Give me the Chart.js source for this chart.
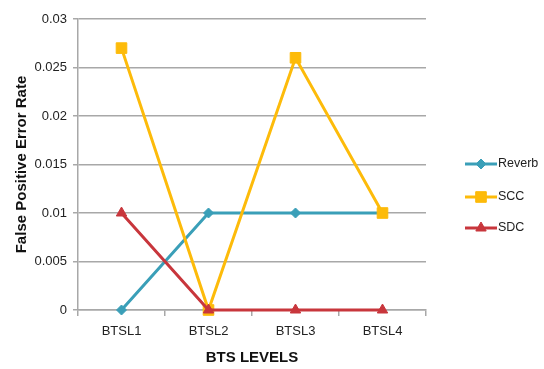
<!DOCTYPE html>
<html>
<head>
<meta charset="utf-8">
<script src="https://cdn.jsdelivr.net/npm/chart.js"></script>
<style>
  html, body { margin: 0; padding: 0; background: #fff; }
  #wrap { width: 544px; height: 369px; }
</style>
</head>
<body>
<div id="wrap"><canvas id="myChart" width="544" height="369"></canvas></div>
<script>
const levels = ['BTSL1', 'BTSL2', 'BTSL3', 'BTSL4'];
const reverb = [0, 0.01, 0.01, 0.01];
const scc = [0.027, 0, 0.026, 0.01];
const sdc = [0.01, 0, 0, 0];
const yTicks = ['0', '0.005', '0.01', '0.015', '0.02', '0.025', '0.03'];

const fontFam = "'Liberation Sans', Arial, sans-serif";
const gridColor = '#a8a8a8';

// legend drawn by hand: line + marker + name, like the original
const sideLegend = {
  id: 'sideLegend',
  afterDraw(chart) {
    const ctx = chart.ctx;
    const rows = [164, 197, 228];
    chart.data.datasets.forEach((ds, i) => {
      const y = rows[i];
      ctx.save();
      ctx.strokeStyle = ds.borderColor;
      ctx.lineWidth = 3;
      ctx.beginPath();
      ctx.moveTo(465, y);
      ctx.lineTo(497, y);
      ctx.stroke();
      ctx.fillStyle = ds.borderColor;
      ctx.strokeStyle = ds.borderColor;
      ctx.lineWidth = 1;
      Chart.helpers.drawPoint(ctx, {
        pointStyle: ds.pointStyle,
        radius: ds.pointRadius,
        borderWidth: 1
      }, 481, y);
      ctx.fillStyle = '#222';
      ctx.font = '12.5px ' + fontFam;
      ctx.textBaseline = 'middle';
      ctx.fillText(ds.label, 498, y);
      ctx.restore();
    });
  }
};

const ctx = document.getElementById('myChart').getContext('2d');
const myChart = new Chart(ctx, {
  type: 'line',
  data: {
    labels: levels,
    datasets: [
      {
        label: 'Reverb', data: reverb, clip: false, order: 2,
        borderColor: '#3a9fb8', backgroundColor: '#3a9fb8',
        pointStyle: 'rectRot', pointRadius: 5, pointBorderWidth: 1, borderWidth: 3
      },
      {
        label: 'SCC', data: scc, clip: false, order: 1,
        borderColor: '#fdbb0a', backgroundColor: '#fdbb0a',
        pointStyle: 'rect', pointRadius: 7.5, pointBorderWidth: 1, borderWidth: 3
      },
      {
        label: 'SDC', data: sdc, clip: false, order: 0,
        borderColor: '#c8363c', backgroundColor: '#c8363c',
        pointStyle: 'triangle', pointRadius: 6, pointBorderWidth: 1, borderWidth: 3
      }
    ]
  },
  options: {
    responsive: false,
    animation: false,
    layout: { padding: { left: 0, right: 118, top: 19, bottom: 0 } },
    plugins: {
      legend: { display: false },
      tooltip: { enabled: false }
    },
    scales: {
      x: {
        offset: true,
        grid: { offset: true, drawOnChartArea: false, drawTicks: true, tickLength: 6, color: gridColor, lineWidth: 1.5 },
        border: { color: gridColor, width: 1.5 },
        ticks: { color: '#222', font: { family: fontFam, size: 13 }, padding: 8 },
        title: { display: true, text: 'BTS LEVELS', color: '#111', font: { family: fontFam, size: 15, weight: 'bold' }, padding: { top: 4, bottom: 2 } },
        afterFit(scale) { scale.height = 59; }
      },
      y: {
        min: 0, max: 0.03,
        ticks: {
          stepSize: 0.005, color: '#222', font: { family: fontFam, size: 13 }, padding: 6,
          callback: (v, i) => yTicks[i]
        },
        grid: { color: gridColor, lineWidth: 1.5, tickLength: 5 },
        border: { color: gridColor, width: 1.5 },
        title: { display: true, text: 'False Positive Error Rate', color: '#111', font: { family: fontFam, size: 15, weight: 'bold' }, padding: { top: 13, bottom: 0 } },
        afterFit(scale) { scale.width = 78; }
      }
    }
  },
  plugins: [sideLegend]
});
</script>
</body>
</html>
